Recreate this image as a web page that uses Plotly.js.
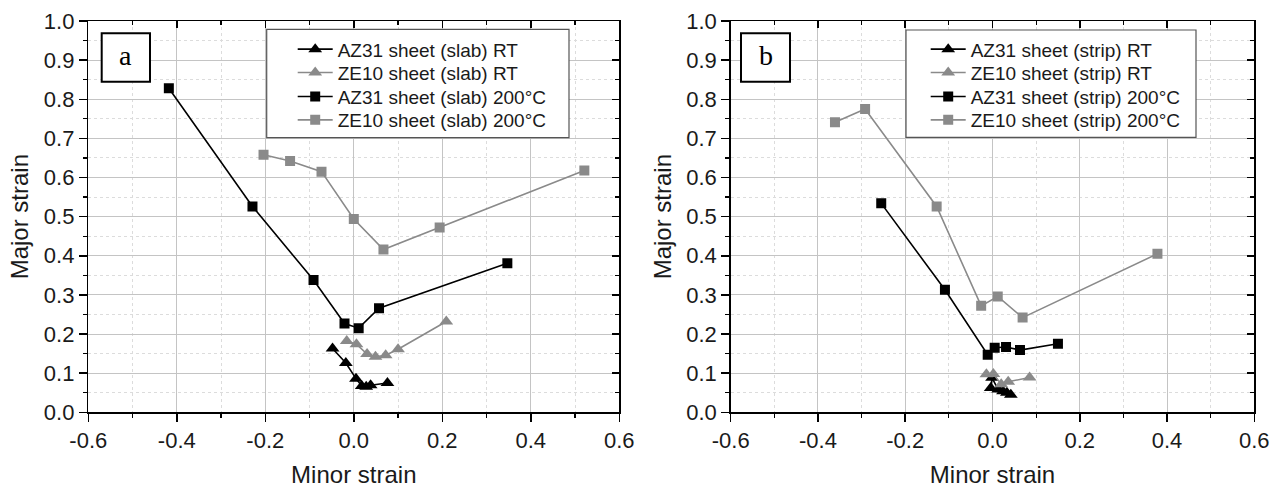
<!DOCTYPE html>
<html>
<head>
<meta charset="utf-8">
<script src="https://cdn.plot.ly/plotly-3.0.1.min.js"></script>
<style>html,body{margin:0;padding:0;background:#fff;}#chart{width:1280px;height:489px;}</style>
</head>
<body>
<div id="chart"></div>
<script>
// Panel a (slab)
const slabLabels = ['AZ31 sheet (slab) RT','ZE10 sheet (slab) RT','AZ31 sheet (slab) 200°C','ZE10 sheet (slab) 200°C'];
const az31SlabRT_x = [-0.048,-0.018,0.005,0.018,0.028,0.038,0.076];
const az31SlabRT_y = [0.163,0.126,0.086,0.067,0.065,0.069,0.075];
const ze10SlabRT_x = [-0.016,0.006,0.030,0.049,0.072,0.100,0.209];
const ze10SlabRT_y = [0.182,0.174,0.149,0.142,0.146,0.161,0.232];
const az31Slab200_x = [-0.418,-0.229,-0.091,-0.021,0.011,0.057,0.347];
const az31Slab200_y = [0.828,0.526,0.338,0.227,0.215,0.266,0.381];
const ze10Slab200_x = [-0.204,-0.144,-0.073,0.000,0.067,0.194,0.521];
const ze10Slab200_y = [0.658,0.642,0.615,0.494,0.416,0.472,0.618];
// Panel b (strip)
const stripLabels = ['AZ31 sheet (strip) RT','ZE10 sheet (strip) RT','AZ31 sheet (strip) 200°C','ZE10 sheet (strip) 200°C'];
const az31StripRT_x = [-0.004,-0.001,0.013,0.024,0.033,0.042];
const az31StripRT_y = [0.062,0.088,0.058,0.054,0.050,0.045];
const ze10StripRT_x = [-0.014,0.002,0.020,0.036,0.085];
const ze10StripRT_y = [0.097,0.098,0.072,0.078,0.089];
const az31Strip200_x = [-0.255,-0.109,-0.011,0.005,0.031,0.063,0.150];
const az31Strip200_y = [0.534,0.313,0.147,0.165,0.167,0.159,0.175];
const ze10Strip200_x = [-0.361,-0.292,-0.128,-0.026,0.012,0.069,0.378];
const ze10Strip200_y = [0.741,0.775,0.526,0.272,0.296,0.242,0.405];
// Tick labels
const xTickVals = [-0.6,-0.4,-0.2,0.0,0.2,0.4,0.6];
const xTickText = ['-0.6','-0.4','-0.2','0.0','0.2','0.4','0.6'];
const yTickVals = [0.0,0.1,0.2,0.3,0.4,0.5,0.6,0.7,0.8,0.9,1.0];
const yTickText = ['0.0','0.1','0.2','0.3','0.4','0.5','0.6','0.7','0.8','0.9','1.0'];
const panelLetters = ['a','b'];
const xTitle = 'Minor strain';
const yTitle = 'Major strain';

const BLACK = '#000000';
const GRAY = '#8a8a8a';
const FONT = 'Liberation Sans, Arial, sans-serif';

function tr(x, y, name, color, symbol, xa, ya, legend) {
  return {
    type: 'scatter', mode: 'lines+markers', x: x, y: y, name: name,
    xaxis: xa, yaxis: ya, legend: legend,
    line: {color: color, width: 1.6},
    marker: {color: color, symbol: symbol, size: symbol === 'triangle-up' ? 12 : 10, line: {width: 0}}
  };
}

const data = [
  tr(az31SlabRT_x, az31SlabRT_y, slabLabels[0], BLACK, 'triangle-up', 'x', 'y', 'legend'),
  tr(ze10SlabRT_x, ze10SlabRT_y, slabLabels[1], GRAY, 'triangle-up', 'x', 'y', 'legend2'),
  tr(az31Slab200_x, az31Slab200_y, slabLabels[2], BLACK, 'square', 'x', 'y', 'legend3'),
  tr(ze10Slab200_x, ze10Slab200_y, slabLabels[3], GRAY, 'square', 'x', 'y', 'legend4'),
  tr(az31StripRT_x, az31StripRT_y, stripLabels[0], BLACK, 'triangle-up', 'x2', 'y2', 'legend5'),
  tr(ze10StripRT_x, ze10StripRT_y, stripLabels[1], GRAY, 'triangle-up', 'x2', 'y2', 'legend6'),
  tr(az31Strip200_x, az31Strip200_y, stripLabels[2], BLACK, 'square', 'x2', 'y2', 'legend7'),
  tr(ze10Strip200_x, ze10Strip200_y, stripLabels[3], GRAY, 'square', 'x2', 'y2', 'legend8'),
  // empty helper traces so mirrored axes are drawn
  {type:'scatter', x:[], y:[], xaxis:'x3', yaxis:'y', showlegend:false, hoverinfo:'skip'},
  {type:'scatter', x:[], y:[], xaxis:'x', yaxis:'y3', showlegend:false, hoverinfo:'skip'},
  {type:'scatter', x:[], y:[], xaxis:'x4', yaxis:'y2', showlegend:false, hoverinfo:'skip'},
  {type:'scatter', x:[], y:[], xaxis:'x2', yaxis:'y4', showlegend:false, hoverinfo:'skip'}
];

const yDom = [(489 - 412.3)/489, 1 - 21/489];
const xDomA = [88.3/1280, 619.3/1280];
const xDomB = [730.7/1280, 1254.3/1280];

function xMain(dom, anchor) {
  return {
    domain: dom, anchor: anchor, range: [-0.6, 0.6], tickmode: 'array', tickvals: xTickVals, ticktext: xTickText,
    showline: true, linecolor: BLACK, linewidth: 1.5, ticks: 'outside', ticklen: 8, tickwidth: 1.5, tickcolor: BLACK,
    showgrid: true, gridcolor: '#c4c4c4', gridwidth: 1, zeroline: false,
    minor: {tickmode: 'linear', tick0: 0, dtick: 0.1, ticks: 'outside', ticklen: 4, tickwidth: 1.2, tickcolor: BLACK, showgrid: true, gridcolor: '#dcdcdc', griddash: 'dot', gridwidth: 1},
    tickfont: {family: FONT, size: 22, color: '#1a1a1a'},
    title: {text: xTitle, font: {family: FONT, size: 24, color: '#1a1a1a'}, standoff: 14},
    fixedrange: true
  };
}
function yMain(dom, anchor) {
  return {
    domain: dom, anchor: anchor, range: [0, 1.0], tickmode: 'array', tickvals: yTickVals, ticktext: yTickText,
    showline: true, linecolor: BLACK, linewidth: 1.5, ticks: 'outside', ticklen: 8, tickwidth: 1.5, tickcolor: BLACK,
    showgrid: true, gridcolor: '#c4c4c4', gridwidth: 1, zeroline: false,
    minor: {tickmode: 'linear', tick0: 0, dtick: 0.05, ticks: 'outside', ticklen: 4, tickwidth: 1.2, tickcolor: BLACK, showgrid: true, gridcolor: '#dcdcdc', griddash: 'dot', gridwidth: 1},
    tickfont: {family: FONT, size: 22, color: '#1a1a1a'},
    title: {text: yTitle, font: {family: FONT, size: 24, color: '#1a1a1a'}, standoff: 8},
    fixedrange: true
  };
}
function xMirror(over, anchor) {
  return {overlaying: over, anchor: anchor, side: 'top', range: [-0.6, 0.6], dtick: 0.2, tick0: 0,
    showline: true, linecolor: BLACK, linewidth: 1.5, ticks: 'inside', ticklen: 7, tickwidth: 1.5, tickcolor: BLACK,
    showticklabels: false, showgrid: false, zeroline: false,
    minor: {dtick: 0.1, ticks: 'inside', ticklen: 4, tickwidth: 1.2, tickcolor: BLACK, showgrid: false}, fixedrange: true};
}
function yMirror(over, anchor) {
  return {overlaying: over, anchor: anchor, side: 'right', range: [0, 1.0], dtick: 0.1, tick0: 0,
    showline: true, linecolor: BLACK, linewidth: 1.5, ticks: 'inside', ticklen: 7, tickwidth: 1.5, tickcolor: BLACK,
    showticklabels: false, showgrid: false, zeroline: false,
    minor: {dtick: 0.05, ticks: 'inside', ticklen: 4, tickwidth: 1.2, tickcolor: BLACK, showgrid: false}, fixedrange: true};
}

function px(v) { return v / 1280; }
function py(v) { return 1 - v / 489; }

const legendBase = {
  bgcolor: 'rgba(0,0,0,0)', borderwidth: 0, xanchor: 'left', yanchor: 'middle',
  font: {family: FONT, size: 19, color: '#1a1a1a'}, itemwidth: 35
};
const rowY = [49.3, 72.7, 96.7, 120];
function lg(xPix, row) { return Object.assign({}, legendBase, {x: px(xPix), y: py(rowY[row])}); }

const layout = {
  width: 1280, height: 489,
  margin: {l: 0, r: 0, t: 0, b: 0},
  paper_bgcolor: '#ffffff', plot_bgcolor: '#ffffff',
  showlegend: true,
  xaxis: xMain(xDomA, 'y'),
  yaxis: yMain(yDom, 'x'),
  xaxis2: xMain(xDomB, 'y2'),
  yaxis2: yMain(yDom, 'x2'),
  xaxis3: xMirror('x', 'y'),
  yaxis3: yMirror('y', 'x'),
  xaxis4: xMirror('x2', 'y2'),
  yaxis4: yMirror('y2', 'x2'),
  legend: lg(292.7, 0), legend2: lg(292.7, 1), legend3: lg(292.7, 2), legend4: lg(292.7, 3),
  legend5: lg(925.7, 0), legend6: lg(925.7, 1), legend7: lg(925.7, 2), legend8: lg(925.7, 3),
  shapes: [
    {type: 'rect', xref: 'paper', yref: 'paper', x0: px(266.7), x1: px(569), y0: py(137.7), y1: py(29.3), fillcolor: '#ffffff', line: {color: '#555555', width: 1.2}, layer: 'above'},
    {type: 'rect', xref: 'paper', yref: 'paper', x0: px(906), x1: px(1196), y0: py(137.3), y1: py(30), fillcolor: '#ffffff', line: {color: '#555555', width: 1.2}, layer: 'above'},
    {type: 'rect', xref: 'paper', yref: 'paper', x0: px(101.7), x1: px(150), y0: py(81.7), y1: py(33.3), fillcolor: '#ffffff', line: {color: BLACK, width: 2}, layer: 'above'},
    {type: 'rect', xref: 'paper', yref: 'paper', x0: px(741), x1: px(790), y0: py(81.7), y1: py(33.3), fillcolor: '#ffffff', line: {color: BLACK, width: 2}, layer: 'above'}
  ],
  annotations: [
    {xref: 'paper', yref: 'paper', x: px(125.9), y: py(55.5), text: panelLetters[0], showarrow: false, xanchor: 'center', yanchor: 'middle', font: {family: 'Liberation Serif, Times New Roman, serif', size: 28, color: '#000'}},
    {xref: 'paper', yref: 'paper', x: px(765.5), y: py(55.5), text: panelLetters[1], showarrow: false, xanchor: 'center', yanchor: 'middle', font: {family: 'Liberation Serif, Times New Roman, serif', size: 28, color: '#000'}}
  ]
};

Plotly.newPlot('chart', data, layout, {staticPlot: true, displayModeBar: false});
</script>
</body>
</html>
